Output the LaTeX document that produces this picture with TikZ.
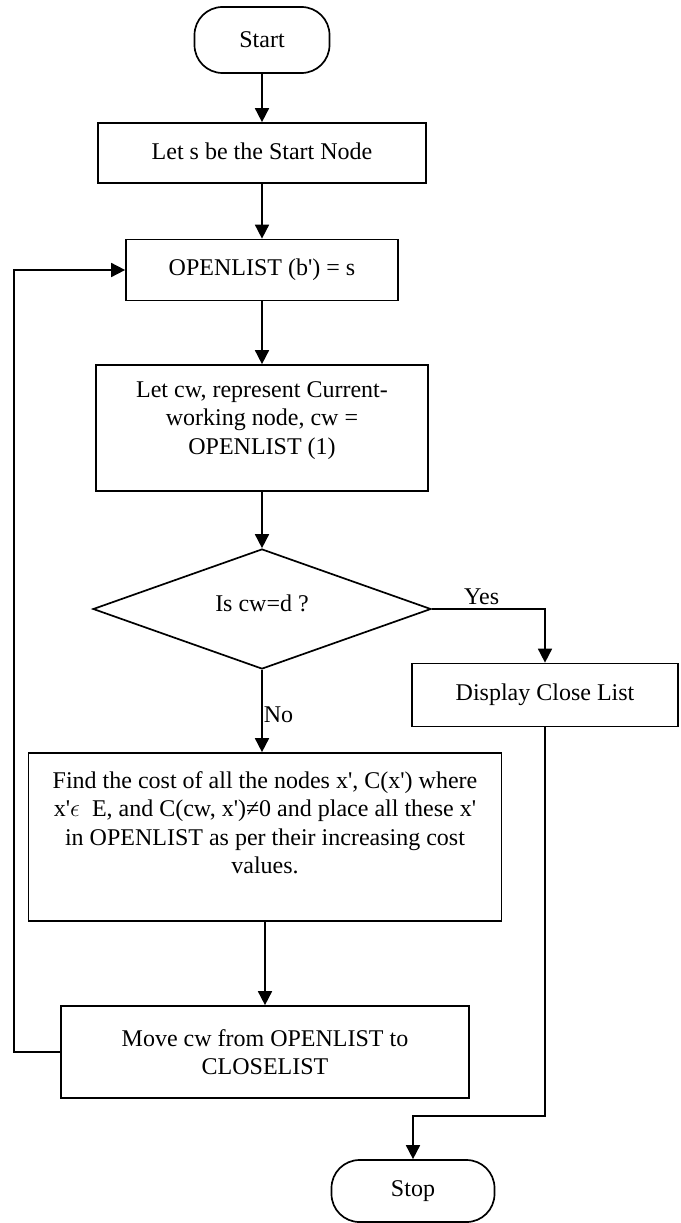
\documentclass[tikz,border=0pt]{standalone}
\usepackage{fontspec}
\setmainfont{Liberation Serif}
\usepackage{tikz}
\usetikzlibrary{positioning,shapes,arrows.meta}
\newcommand{\sq}{\textquotesingle}

\begin{document}
\begin{tikzpicture}[x=1pt,y=-1pt,->,>={Triangle[length=14pt,width=14pt]},line width=1.7pt,font=\fontsize{24}{28.5}\selectfont]
            \tikzstyle{box}=[draw,rectangle,align=center,inner sep=0pt]
            \tikzstyle{term}=[draw,rectangle,rounded corners=28pt,inner sep=0pt]
            \tikzstyle{cond}=[draw,diamond,shape aspect=2.8,inner sep=0pt]
            \useasboundingbox (0,0) rectangle (680,1223);
            \node[term, minimum width=135pt, minimum height=66pt] (start) at (262,40) {Start};
            \node[box, minimum width=328pt, minimum height=60pt] (lets) at (262,153) {\raisebox{4pt}{Let s be the Start Node}};
            \node[box, minimum width=272pt, minimum height=61pt] (open) at (262,270) {OPENLIST (b\sq) = s};
            \node[box, minimum width=332pt, minimum height=126pt] (letcw) at (262,428) {Let cw, represent Current-\\working node, cw =\\OPENLIST (1)\\[-8pt]\mbox{}};
            \node[cond, minimum width=338pt, minimum height=120pt] (isd) at (262,609) {\raisebox{11pt}{Is cw=d ?}};
            \node[box, minimum width=266pt, minimum height=63pt] (disp) at (545,695) {Display Close List};
            \node[box, minimum width=473pt, minimum height=168pt] (find) at (265,837) {Find the cost of all the nodes x\sq, C(x\sq) where\\x\sq$\epsilon$\ \ E, and C(cw, x\sq)≠0 and place all these x\sq\\in OPENLIST as per their increasing cost\\values.\\\mbox{}};
            \node[box, minimum width=408pt, minimum height=92pt] (move) at (265,1052) {Move cw from OPENLIST to\\CLOSELIST};
            \node[term, minimum width=163pt, minimum height=62pt] (stop) at (413,1191) {Stop};
            \coordinate (back) at (14,1052);
            \coordinate (bend) at (545,1116);
            \draw (start) -- (lets);
            \draw (lets) -- (open);
            \draw (open) -- (letcw);
            \draw (letcw) -- (isd);
            \draw (isd.east) -| node[pos=0.22, above] {Yes} (disp.north);
            \draw (isd.south) -- node[pos=0.55, right, inner sep=1pt] {No} (isd.south |- find.north);
            \draw (find) -- (move);
            \draw (move.west) -- (back) |- (open.west);
            \draw (disp.south) -- (bend) -| (stop.north);
          \end{tikzpicture}
\end{document}
